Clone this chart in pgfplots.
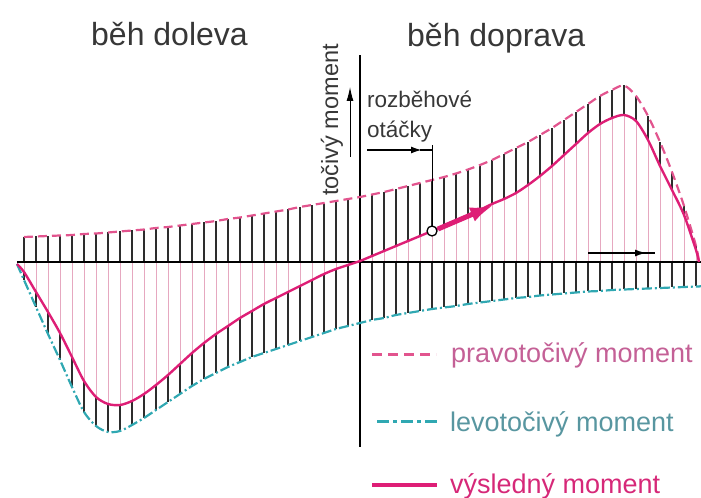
\documentclass[border=0pt]{standalone}
\usepackage{pgfplots}
\pgfplotsset{compat=1.18}
\usepackage{pgfplotstable}
\usepackage{fontspec}
\setmainfont{Liberation Sans}
\usetikzlibrary{arrows.meta}

\definecolor{pravo}{RGB}{226,84,142}
\definecolor{levo}{RGB}{48,168,178}
\definecolor{vysl}{RGB}{222,30,118}
\definecolor{hatchpink}{RGB}{230,168,192}
\definecolor{hatchdark}{RGB}{45,45,45}
\definecolor{txtpravo}{RGB}{196,96,150}
\definecolor{txtlevo}{RGB}{88,150,160}
\definecolor{txtvysl}{RGB}{214,40,120}
\definecolor{txtgray}{RGB}{55,55,55}

% torque curves: x = speed (0 = standstill), up = right-hand torque,
% lo = left-hand torque, res = resulting torque
\pgfplotstableread{
x     up     lo      res
-343  nan    -2      -2
-336  25     -18     -10
-324  25.5   -45     -30
-312  26     -72     -50
-300  26.5   -98     -71
-288  27     -125    -95
-276  28     -150    -119
-264  28.5   -164    -135
-252  29.5   -170    -142
-240  30.5   -169    -143
-228  31.5   -163    -139
-216  32.5   -156    -132
-204  34     -148    -123
-192  35     -140    -113
-180  36.5   -132    -102
-168  38     -124    -91
-156  39.5   -117    -81
-144  41     -111    -72
-132  43     -105    -64
-120  44.5   -100    -56
-108  46.5   -95     -49
-96   48.5   -91     -42
-84   50.5   -87     -36
-72   52.5   -83     -30
-60   55     -79     -24
-48   57     -75     -18
-36   59     -71     -12
-24   61     -67     -7
-12   63     -64     -3
0     65     -61     1
12    67.5   -58     6
24    70     -56     11
36    73     -53     16
48    76     -51     21
60    79     -49     26
72    82     -47     31
84    85     -45.5   36
96    88.5   -44     41
108   92.5   -42     46
120   97     -40.5   52
132   102    -39     58
144   108    -37.5   63
156   114    -36     69
168   120    -35     77
180   127    -33.5   86
192   134    -32.5   96
204   142    -31.5   107
216   150    -30.5   118
228   158    -29.5   129
240   166    -29     138
252   172    -28     144
264   176.5  -27.5   147
276   166    -27     141
288   146    -26.5   122
300   120    -26     96
312   90     -25.5   72
324   56     -25     47
336   16     -24.5   12
339   0      -24.5   0
341   nan    -24     nan
}\curves

\begin{document}
\begin{tikzpicture}
\begin{axis}[
  width=701bp, height=498bp, scale only axis,
  hide axis, clip=false,
  xmin=-360, xmax=341, ymin=-236, ymax=262,
]
% hatching: pink between zero and the resulting torque
\addplot[hatchpink, line width=1bp, no markers, restrict x to domain=-340:337,
  quiver={u=0, v=\thisrow{res}}]
  table[x=x, y expr=0] {\curves};
% dark hatching: the remaining parts of both torques
\addplot[hatchdark, line width=1.1bp, no markers, restrict x to domain=-340:337,
  quiver={u=0, v={\thisrow{up}-max(0,\thisrow{res})}}]
  table[x=x, y expr={max(0,\thisrow{res})}] {\curves};
\addplot[hatchdark, line width=1.1bp, no markers, restrict x to domain=-340:337,
  quiver={u=0, v={\thisrow{lo}-min(0,\thisrow{res})}}]
  table[x=x, y expr={min(0,\thisrow{res})}] {\curves};

% axes
\draw[line width=2bp, black] (axis cs:-343,0) -- (axis cs:341,0);
\draw[line width=2bp, black] (axis cs:0,-185) -- (axis cs:0,207);

% torque curves
\addplot[pravo, line width=2.2bp, dash pattern=on 9bp off 5bp, smooth, no markers]
  table[x=x, y=up] {\curves};
\addplot[levo, line width=2.2bp, dash pattern=on 10bp off 3bp on 2bp off 3bp, smooth, no markers]
  table[x=x, y=lo] {\curves};
\addplot[vysl, line width=2.4bp, smooth, no markers]
  table[x=x, y=res] {\curves};

% direction of acceleration along the resulting torque
\addplot[vysl, line width=5bp, no markers, -{Latex[length=24bp, width=15bp]}]
  coordinates {(78,33) (134,57)};

% starting speed
\draw[line width=1bp, black] (axis cs:72,117) -- (axis cs:72,31);
\draw[line width=1.8bp, black, -{Latex[length=11bp, width=7bp]}] (axis cs:7,112) -- (axis cs:62,112);
\draw[line width=1.8bp, black] (axis cs:60,112) -- (axis cs:72,112);
\addplot[black, line width=1.3bp, mark=*, mark size=5bp,
  mark options={fill=white, draw=black, line width=1.3bp}, only marks]
  coordinates {(72,31)};

% torque direction arrow next to the axis label
\draw[line width=1bp, black, -{Latex[length=14bp, width=7bp]}] (axis cs:-10,105) -- (axis cs:-10,175);

% direction arrow on the speed axis
\draw[line width=2.2bp, black, -{Latex[length=12bp, width=7bp]}] (axis cs:228,9) -- (axis cs:287,9);
\draw[line width=2.2bp, black] (axis cs:280,9) -- (axis cs:295,9);

% titles
\node[anchor=base west, txtgray, inner sep=0pt, font=\fontsize{32bp}{38bp}\selectfont]
  at (axis cs:-269,216) {běh doleva};
\node[anchor=base west, txtgray, inner sep=0pt, font=\fontsize{32bp}{38bp}\selectfont]
  at (axis cs:47,215) {běh doprava};
\node[anchor=base, rotate=90, txtgray, inner sep=0pt, font=\fontsize{23.5bp}{28bp}\selectfont]
  at (axis cs:-22,142) {točivý moment};
\node[anchor=base west, txtgray, inner sep=0pt, font=\fontsize{22.5bp}{27bp}\selectfont]
  at (axis cs:7,154) {rozběhové};
\node[anchor=base west, txtgray, inner sep=0pt, font=\fontsize{22.5bp}{27bp}\selectfont]
  at (axis cs:7,124) {otáčky};

% legend
\addplot[pravo, line width=3bp, dash pattern=on 10bp off 6bp, no markers]
  coordinates {(12,-93) (76,-93)};
\addplot[levo, line width=3bp, dash pattern=on 12bp off 4bp on 4bp off 4bp, no markers]
  coordinates {(17,-160) (78,-160)};
\addplot[vysl, line width=3.5bp, no markers]
  coordinates {(12,-223) (77,-223)};
\node[anchor=base west, txtpravo, inner sep=0pt, font=\fontsize{27bp}{32bp}\selectfont]
  at (axis cs:91,-101) {pravotočivý moment};
\node[anchor=base west, txtlevo, inner sep=0pt, font=\fontsize{27bp}{32bp}\selectfont]
  at (axis cs:90,-170) {levotočivý moment};
\node[anchor=base west, txtvysl, inner sep=0pt, font=\fontsize{27bp}{32bp}\selectfont]
  at (axis cs:90,-231) {výsledný moment};
\end{axis}
\pgfresetboundingbox
\path[use as bounding box] (current axis.south west) rectangle (current axis.north east);
\end{tikzpicture}
\end{document}
